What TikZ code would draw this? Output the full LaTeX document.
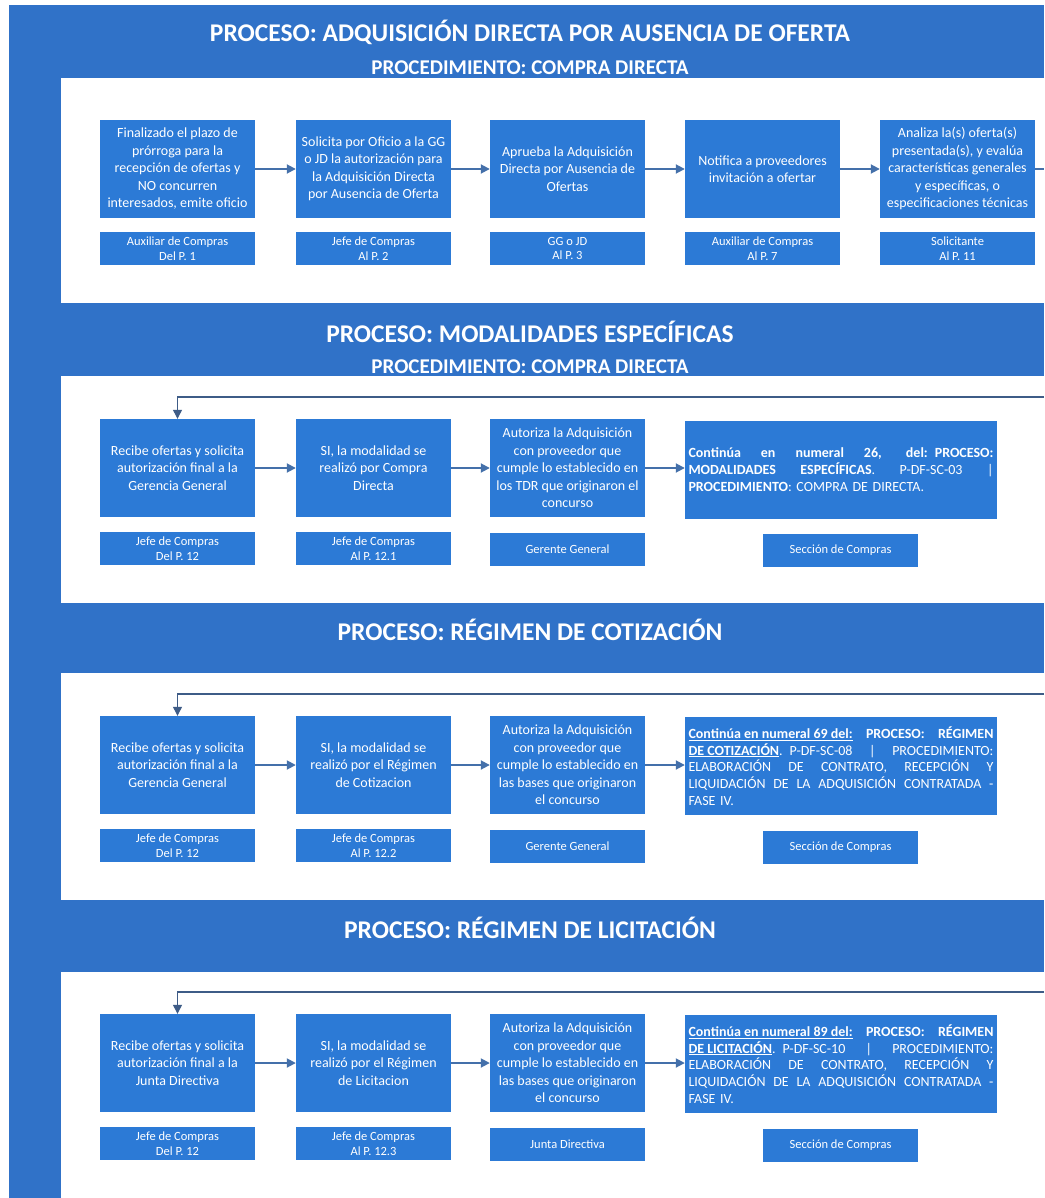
\documentclass[tikz,border=0pt]{standalone}
\usepackage{fontspec}
\setmainfont{Carlito}
\usetikzlibrary{arrows.meta}
\definecolor{frameblue}{RGB}{48,114,200}
\definecolor{boxblue}{RGB}{44,122,214}
\definecolor{arrowc}{RGB}{68,112,170}
\definecolor{loopc}{RGB}{62,92,135}
\newcommand{\jl}[1]{\leavevmode\hbox to 305pt{\spaceskip=\fontdimen2\font plus 1fil\relax #1}}
\begin{document}
\begin{tikzpicture}[x=1pt,y=-1pt,
  stepbox/.style={fill=boxblue, text=white, align=center, inner sep=2pt,
    minimum width=155pt, minimum height=98pt, font=\fontsize{14}{17.5}\selectfont},
  widebox/.style={fill=boxblue, text=white, align=left, inner sep=3.5pt,
    text width=305pt, minimum height=98pt, font=\fontsize{14}{16.8}\selectfont},
  lblbox/.style={fill=boxblue, text=white, align=center, inner sep=1pt,
    minimum width=155pt, minimum height=33pt, font=\fontsize{12.5}{14.5}\selectfont},
  titleA/.style={text=white, font=\fontsize{25.5}{30}\selectfont\bfseries},
  titleB/.style={text=white, font=\fontsize{21}{25}\selectfont\bfseries},
  arr/.style={draw=arrowc, line width=1.8pt, -{Triangle[length=9pt,width=9pt]}},
  plainline/.style={draw=arrowc, line width=1.8pt},
  loopline/.style={draw=loopc, line width=1.2pt, -{Triangle[length=9pt,width=9pt]}}
]
\useasboundingbox (0,0) rectangle (1044,1198);
\fill[white] (0,0) rectangle (1044,1198);
\fill[frameblue] (9,5) rectangle (1044,1198);
% white panels
\fill[white] (61,78) rectangle (1044,303);
\fill[white] (61,376) rectangle (1044,603);
\fill[white] (61,673) rectangle (1044,900);
\fill[white] (61,972) rectangle (1044,1198);

% titles
\node[titleA] (t1) at (530,32) {PROCESO: ADQUISICIÓN DIRECTA POR AUSENCIA DE OFERTA};
\node[titleB] (t1b) at (530,68) {PROCEDIMIENTO: COMPRA DIRECTA};
\node[titleA] (t2) at (530,332) {PROCESO: MODALIDADES ESPECÍFICAS};
\node[titleB] (t2b) at (530,367) {PROCEDIMIENTO: COMPRA DIRECTA};
\node[titleA] (t3) at (530,630) {PROCESO: RÉGIMEN DE COTIZACIÓN};
\node[titleA] (t4) at (530,928) {PROCESO: RÉGIMEN DE LICITACIÓN};

% ---------- Row 1
\node[stepbox] (a1) at (177.5,169) {Finalizado el plazo de\\prórroga para la\\recepción de ofertas y\\NO concurren\\interesados, emite oficio};
\node[stepbox] (a2) at (373.5,169) {Solicita por Oficio a la GG\\o JD la autorización para\\la Adquisición Directa\\por Ausencia de Oferta};
\node[stepbox] (a3) at (567.5,169) {Aprueba la Adquisición\\Directa por Ausencia de\\Ofertas};
\node[stepbox] (a4) at (762.5,169) {Notifica a proveedores\\invitación a ofertar};
\node[stepbox] (a5) at (957.5,169) {Analiza la(s) oferta(s)\\presentada(s), y evalúa\\características generales\\y específicas, o\\especificaciones técnicas};
\node[lblbox] (la1) at (177.5,248.5) {Auxiliar de Compras\\Del P. 1};
\node[lblbox] (la2) at (373.5,248.5) {Jefe de Compras\\Al P. 2};
\node[lblbox] (la3) at (567.5,248.5) {GG o JD\\Al P. 3};
\node[lblbox] (la4) at (762.5,248.5) {Auxiliar de Compras\\Al P. 7};
\node[lblbox] (la5) at (957.5,248.5) {Solicitante\\Al P. 11};
\draw[arr] (a1) -- (a2);
\draw[arr] (a2) -- (a3);
\draw[arr] (a3) -- (a4);
\draw[arr] (a4) -- (a5);
\coordinate (e1) at (1044,169);
\draw[plainline] (a5.east) -- (e1);

% ---------- Row 2
\node[stepbox] (b1) at (177.5,468) {Recibe ofertas y solicita\\autorización final a la\\Gerencia General};
\node[stepbox] (b2) at (373.5,468) {SI, la modalidad se\\realizó por Compra\\Directa};
\node[stepbox] (b3) at (567.5,468) {Autoriza la Adquisición\\con proveedor que\\cumple lo establecido en\\los TDR que originaron el\\concurso};
\node[widebox] (b4) at (841,469.5) {\jl{\textbf{Continúa en numeral 26, del: PROCESO:}}\\
\jl{\textbf{MODALIDADES ESPECÍFICAS}. P-DF-SC-03 |}\\
\mbox{\textbf{PROCEDIMIENTO}: COMPRA DE DIRECTA.}};
\node[lblbox] (lb1) at (177.5,548.5) {Jefe de Compras\\Del P. 12};
\node[lblbox] (lb2) at (373.5,548.5) {Jefe de Compras\\Al P. 12.1};
\node[lblbox] (lb3) at (567.5,549) {Gerente General};
\node[lblbox] (lb4) at (840.5,550.5) {Sección de Compras};
\draw[arr] (b1) -- (b2);
\draw[arr] (b2) -- (b3);
\draw[arr] (b3.east) -- (b4.west |- b3.east);
\coordinate (r2) at (1044,397);
\draw[loopline] (r2) -| (b1.north);

% ---------- Row 3
\node[stepbox] (c1) at (177.5,765) {Recibe ofertas y solicita\\autorización final a la\\Gerencia General};
\node[stepbox] (c2) at (373.5,765) {SI, la modalidad se\\realizó por el Régimen\\de Cotizacion};
\node[stepbox] (c3) at (567.5,765) {Autoriza la Adquisición\\con proveedor que\\cumple lo establecido en\\las bases que originaron\\el concurso};
\node[widebox] (c4) at (841,766) {\jl{\textbf{\underline{Continúa en numeral 69 del:} PROCESO: RÉGIMEN}}\\
\jl{\textbf{\underline{DE COTIZACIÓN}}. P-DF-SC-08 | PROCEDIMIENTO:}\\
\jl{ELABORACIÓN DE CONTRATO, RECEPCIÓN Y}\\
\jl{LIQUIDACIÓN DE LA ADQUISICIÓN CONTRATADA -}\\
\mbox{FASE IV.}};
\node[lblbox] (lc1) at (177.5,845.5) {Jefe de Compras\\Del P. 12};
\node[lblbox] (lc2) at (373.5,845.5) {Jefe de Compras\\Al P. 12.2};
\node[lblbox] (lc3) at (567.5,846) {Gerente General};
\node[lblbox] (lc4) at (840.5,847.5) {Sección de Compras};
\draw[arr] (c1) -- (c2);
\draw[arr] (c2) -- (c3);
\draw[arr] (c3.east) -- (c4.west |- c3.east);
\coordinate (r3) at (1044,694);
\draw[loopline] (r3) -| (c1.north);

% ---------- Row 4
\node[stepbox] (d1) at (177.5,1063) {Recibe ofertas y solicita\\autorización final a la\\Junta Directiva};
\node[stepbox] (d2) at (373.5,1063) {SI, la modalidad se\\realizó por el Régimen\\de Licitacion};
\node[stepbox] (d3) at (567.5,1063) {Autoriza la Adquisición\\con proveedor que\\cumple lo establecido en\\las bases que originaron\\el concurso};
\node[widebox] (d4) at (841,1064) {\jl{\textbf{\underline{Continúa en numeral 89 del:} PROCESO: RÉGIMEN}}\\
\jl{\textbf{\underline{DE LICITACIÓN}}. P-DF-SC-10 | PROCEDIMIENTO:}\\
\jl{ELABORACIÓN DE CONTRATO, RECEPCIÓN Y}\\
\jl{LIQUIDACIÓN DE LA ADQUISICIÓN CONTRATADA -}\\
\mbox{FASE IV.}};
\node[lblbox] (ld1) at (177.5,1143.5) {Jefe de Compras\\Del P. 12};
\node[lblbox] (ld2) at (373.5,1143.5) {Jefe de Compras\\Al P. 12.3};
\node[lblbox] (ld3) at (567.5,1144) {Junta Directiva};
\node[lblbox] (ld4) at (840.5,1145.5) {Sección de Compras};
\draw[arr] (d1) -- (d2);
\draw[arr] (d2) -- (d3);
\draw[arr] (d3.east) -- (d4.west |- d3.east);
\coordinate (r4) at (1044,992);
\draw[loopline] (r4) -| (d1.north);
\end{tikzpicture}
\end{document}
